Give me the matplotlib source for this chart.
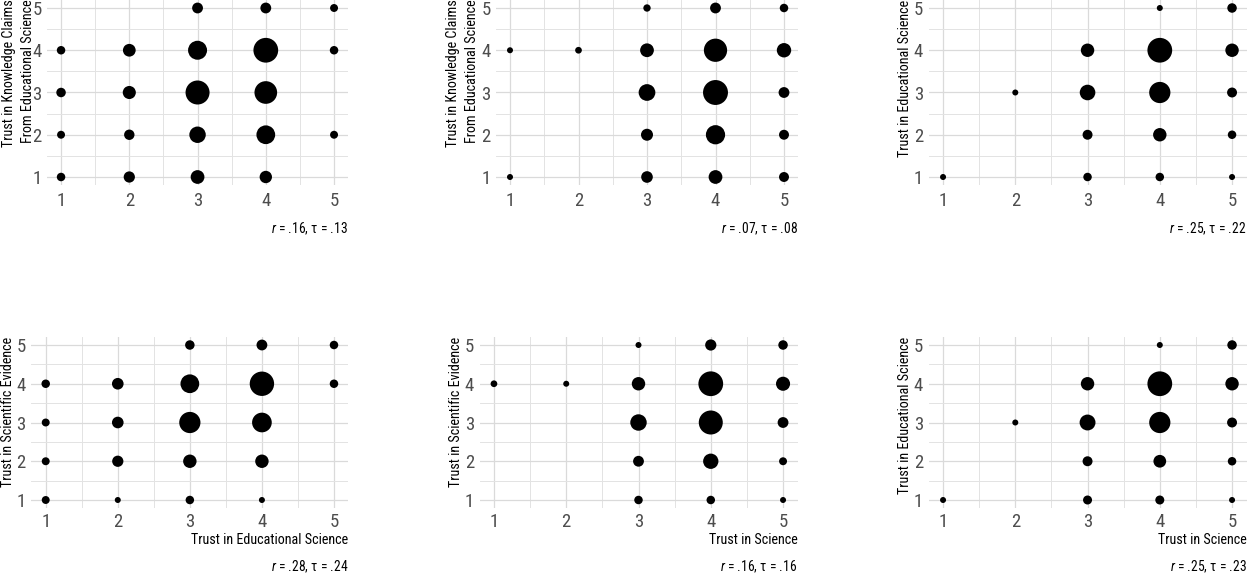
import numpy as np
import matplotlib
matplotlib.use("Agg")
import matplotlib.pyplot as plt
from matplotlib import font_manager as fm

# pick a condensed sans that is installed
font = 'Liberation Sans'
for cand in ['Liberation Sans Narrow', 'Arial Narrow', 'Roboto Condensed',
             'Archivo Narrow', 'PT Sans Narrow', 'Open Sans Condensed']:
    try:
        fm.findfont(fm.FontProperties(family=cand), fallback_to_default=False)
        font = cand
        break
    except ValueError:
        pass

plt.rcParams['font.family'] = [font, 'DejaVu Sans']
plt.rcParams['mathtext.fontset'] = 'custom'
plt.rcParams['mathtext.it'] = font + ':italic'
plt.rcParams['mathtext.rm'] = font

# response levels on both axes
levels = [1, 2, 3, 4, 5]

# counts per cell, rows are y = 1..5, columns are x = 1..5 (0 = no respondents)
counts_1 = [[8, 14, 21, 17, 0],
            [7, 12, 30, 39, 7],
            [10, 19, 64, 57, 0],
            [8, 18, 40, 68, 8],
            [0, 0, 13, 13, 7]]
counts_2 = [[4, 0, 15, 21, 11],
            [0, 0, 16, 41, 11],
            [0, 0, 31, 69, 13],
            [4, 5, 21, 60, 23],
            [0, 0, 6, 13, 8]]
counts_3 = [[4, 0, 8, 8, 4],
            [0, 0, 11, 20, 8],
            [0, 4, 27, 50, 11],
            [0, 0, 20, 68, 20],
            [0, 0, 0, 4, 10]]
counts_4 = [[7, 4, 8, 4, 0],
            [7, 14, 20, 20, 0],
            [7, 15, 50, 43, 0],
            [8, 15, 39, 66, 8],
            [0, 0, 10, 13, 8]]
counts_5 = [[0, 0, 8, 8, 4],
            [0, 0, 13, 26, 7],
            [0, 0, 30, 64, 13],
            [5, 4, 20, 68, 22],
            [0, 0, 4, 14, 10]]
counts_6 = [[4, 0, 9, 9, 4],
            [0, 0, 11, 18, 8],
            [0, 4, 28, 50, 11],
            [0, 0, 20, 68, 20],
            [0, 0, 0, 4, 10]]

y_titles = ["Trust in Knowledge Claims\nFrom Educational Science",
            "Trust in Knowledge Claims\nFrom Educational Science",
            "Trust in Educational Science",
            "Trust in Scientific Evidence",
            "Trust in Scientific Evidence",
            "Trust in Educational Science"]
x_titles = ["", "", "", "Trust in Educational Science", "Trust in Science", "Trust in Science"]
r_vals = [".16", ".07", ".25", ".28", ".16", ".25"]
tau_vals = [".13", ".08", ".22", ".24", ".16", ".23"]

all_counts = [counts_1, counts_2, counts_3, counts_4, counts_5, counts_6]

W, H = 1247, 573
fig = plt.figure(figsize=(W / 100, H / 100), dpi=100)

# panel boxes in pixels: left, right, top, bottom
boxes = [(47.4, 347.7, -0.45, 185.45),
         (496.3, 797.7, -0.45, 185.45),
         (928.6, 1246.5, -0.45, 185.45),
         (31.3, 348.4, 337.25, 507.75),
         (479.5, 797.5, 337.25, 507.75),
         (928.6, 1246.5, 337.25, 507.75)]
ylab_right = [35, 479, 912, 15, 463, 912]
note_y = [229, 229, 229, 567, 567, 567]

for i in range(6):
    l, r, t, b = boxes[i]
    ax = fig.add_axes([l / W, 1 - b / H, (r - l) / W, (b - t) / H])
    c = np.array(all_counts[i])
    xs, ys, ns = [], [], []
    for yi, y in enumerate(levels):
        for xi, x in enumerate(levels):
            if c[yi, xi] > 0:
                xs.append(x)
                ys.append(y)
                ns.append(c[yi, xi])
    ax.scatter(xs, ys, s=np.array(ns) * 4.67, color='black', linewidths=0, zorder=3)

    ax.set_xlim(0.8, 5.2)
    ax.set_ylim(0.8, 5.2)
    ax.set_xticks(levels)
    ax.set_yticks(levels)
    ax.set_xticks([1.5, 2.5, 3.5, 4.5], minor=True)
    ax.set_yticks([1.5, 2.5, 3.5, 4.5], minor=True)
    ax.grid(which='major', color='#DADADA', linewidth=0.9)
    ax.grid(which='minor', color='#E3E3E3', linewidth=0.7)
    ax.set_axisbelow(True)
    for s in ax.spines.values():
        s.set_visible(False)
    ax.tick_params(which='both', length=0, labelsize=13.5, labelcolor='#4D4D4D')
    ax.tick_params(axis='y', pad=4)
    ax.tick_params(axis='x', pad=4.5 if i < 3 else 4)
    ax.set_facecolor('none')

    ax.set_ylabel(y_titles[i], loc='top', fontsize=10.2,
                  linespacing=1.45, multialignment='right')
    ax.yaxis.set_label_coords((ylab_right[i] - l) / (r - l), 1.0)
    if x_titles[i]:
        ax.set_xlabel(x_titles[i], loc='right', fontsize=10.2, labelpad=1.5)

    fig.text(r / W, 1 - note_y[i] / H, r"$\it{r}$ = " + r_vals[i] + ", τ = " + tau_vals[i],
             ha='right', va='center', fontsize=9.8)

fig.savefig("out.png", dpi=100)
